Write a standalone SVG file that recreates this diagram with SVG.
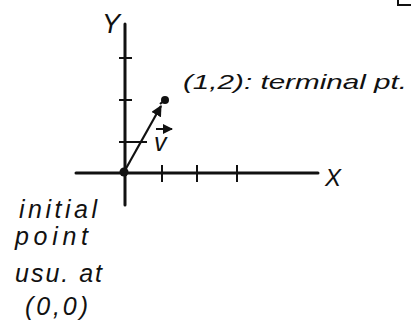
<svg xmlns="http://www.w3.org/2000/svg" width="411" height="325" viewBox="0 0 411 325">
<defs>
<style>
.ax{stroke:#111;stroke-width:3;fill:none;stroke-linecap:round}
.tk{stroke:#111;stroke-width:2;fill:none}
.ln{stroke:#111;stroke-width:2.2;fill:none}
.t{font-family:"Liberation Sans",Arial,sans-serif;font-style:italic;fill:#111}
.lb{font-size:25px}
</style>
<marker id="ah" viewBox="0 0 10 10" refX="9" refY="5" markerWidth="5" markerHeight="5" orient="auto">
<path d="M0,0 L10,5 L0,10 z" fill="#111"/>
</marker>
</defs>
<rect width="411" height="325" fill="#fff"/>
<g id="axes">
<line class="ax" x1="125" y1="24" x2="125" y2="205"/>
<line class="ax" x1="76" y1="173" x2="318" y2="173"/>
<g class="tk">
<line x1="119" y1="58" x2="132" y2="58"/>
<line x1="119" y1="100" x2="132" y2="100"/>
<line x1="119" y1="142" x2="147" y2="142"/>
<line x1="162" y1="165" x2="162" y2="182"/>
<line x1="197" y1="165" x2="197" y2="182"/>
<line x1="237" y1="165" x2="237" y2="182"/>
</g>
<text class="t" x="102" y="33" font-size="27">Y</text>
<text class="t" x="325" y="186" font-size="24" font-style="normal">X</text>
</g>
<g id="connectors">
<line class="ln" x1="124" y1="172" x2="161" y2="106" marker-end="url(#ah)"/>
<line class="ln" x1="160" y1="104" x2="165" y2="100"/>
</g>
<g id="origin">
<circle cx="124" cy="172" r="4.5" fill="#111"/>
</g>
<g id="terminal">
<circle cx="165" cy="100" r="4" fill="#111"/>
<text class="t" x="183" y="89" font-size="21" textLength="224" lengthAdjust="spacingAndGlyphs">(1,2): terminal pt.</text>
</g>
<g id="vlabel">
<line x1="156" y1="129" x2="172" y2="129" stroke="#111" stroke-width="2" marker-end="url(#ah)"/>
<text class="t" x="154" y="151" font-size="25">v</text>
</g>
<g id="initial">
<text class="t lb" x="19" y="218" textLength="78" lengthAdjust="spacing">initial</text>
<text class="t lb" x="15" y="245" textLength="73" lengthAdjust="spacing">point</text>
<text class="t lb" x="15" y="282" textLength="87" lengthAdjust="spacing">usu. at</text>
<text class="t lb" x="25" y="315" textLength="63" lengthAdjust="spacing">(0,0)</text>
</g>
<path d="M398,0 V5 H411" stroke="#111" stroke-width="2" fill="none"/>
</svg>
